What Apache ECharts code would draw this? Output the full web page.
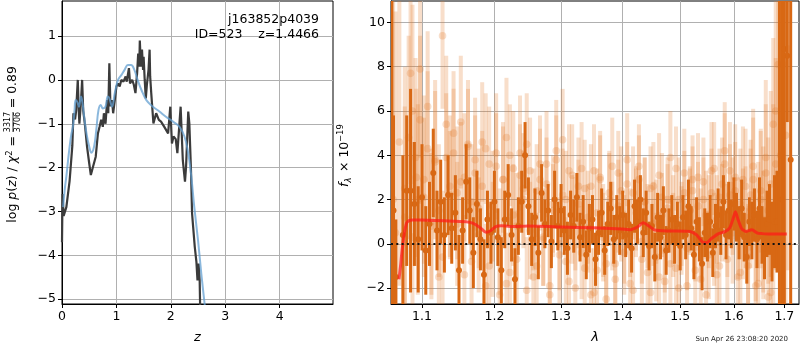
<!DOCTYPE html>
<html>
<head>
<meta charset="utf-8">
<script src="https://cdn.jsdelivr.net/npm/echarts@6/dist/echarts.min.js"></script>
<style>
  html, body { margin: 0; padding: 0; background: #fff; }
  #chart-container { width: 800px; height: 350px; }
</style>
</head>
<body>
<div id="chart-container"></div>
<script>
var dom = document.getElementById("chart-container");
var myChart = echarts.init(dom, null, { renderer: "canvas" });

// left panel: redshift PDF
const pdfZ = [0.00,0.01,0.03,0.08,0.14,0.19,0.21,0.24,0.26,0.29,0.31,0.32,0.35,0.37,0.39,0.42,0.46,0.50,0.53,0.57,
  0.62,0.66,0.69,0.72,0.75,0.77,0.80,0.83,0.85,0.87,0.89,0.92,0.94,0.97,1.00,1.03,1.06,1.09,1.13,1.17,
  1.19,1.23,1.25,1.29,1.32,1.35,1.38,1.40,1.42,1.43,1.45,1.47,1.49,1.50,1.52,1.54,1.56,1.59,1.61,1.62,
  1.64,1.68,1.73,1.78,1.82,1.88,1.95,1.99,2.02,2.05,2.09,2.12,2.15,2.18,2.22,2.26,2.28,2.32,2.34,2.37,
  2.39,2.41,2.44,2.47,2.49,2.51,2.53,2.55];
const pdfLogP = [-3.70,-2.60,-3.10,-2.90,-2.30,-1.50,-0.76,-0.90,-0.70,0.00,-0.76,-1.00,-0.46,0.00,-0.70,-1.00,-1.52,-1.90,-2.17,-1.98,
  -1.75,-1.22,-1.07,-0.91,-1.07,-0.76,-1.00,-0.46,-0.76,0.38,-0.60,-0.46,-0.76,-0.46,-0.15,-0.08,-0.15,0.00,-0.04,0.08,
  -0.04,0.27,-0.08,0.00,-0.11,-0.30,0.15,0.60,0.30,0.90,0.30,0.69,0.23,0.53,0.00,-0.42,-0.11,0.23,0.69,0.08,
  -0.30,-0.99,-0.76,-0.91,-0.95,-1.07,-1.22,-0.61,-1.45,-1.29,-1.35,-1.67,-1.14,-0.61,-1.83,-2.32,-1.98,-0.72,-0.99,-2.05,
  -3.04,-3.35,-3.81,-4.15,-4.57,-4.19,-4.57,-6.00];
const fitZ = [0.02,0.05,0.08,0.11,0.14,0.17,0.20,0.23,0.25,0.28,0.31,0.33,0.35,0.38,0.40,0.45,0.50,0.54,0.59,0.63,
  0.67,0.71,0.75,0.80,0.84,0.87,0.92,0.97,1.03,1.09,1.15,1.21,1.27,1.33,1.39,1.46,1.55,1.67,1.79,1.91,
  2.04,2.16,2.25,2.31,2.37,2.43,2.50,2.56,2.62,2.68];
const fitLogP = [-2.90,-2.50,-2.20,-1.85,-1.52,-1.25,-1.07,-0.70,-0.46,-0.50,-0.61,-0.50,-0.38,-0.55,-0.76,-1.22,-1.52,-1.66,-1.52,-1.14,
  -0.69,-0.57,-0.65,-0.61,-0.38,-0.42,-0.61,-0.30,0.00,0.11,0.23,0.34,0.34,0.23,0.00,-0.23,-0.46,-0.61,-0.72,-0.84,
  -0.95,-1.07,-1.29,-1.60,-2.13,-2.89,-3.66,-4.42,-5.10,-5.79];
const zTicks = [0, 1, 2, 3, 4];
const logpTicks = [-5, -4, -3, -2, -1, 0, 1];

// right panel: spectrum (dark = good pixels, light = down-weighted pixels)
const darkWave = [1.061,1.063,1.066,1.075,1.080,1.085,1.090,1.095,
  1.100,1.105,1.110,1.115,1.120,1.125,1.130,1.135,1.140,1.145,
  1.150,1.155,1.160,1.165,1.170,1.175,1.180,1.185,1.190,1.195,
  1.200,1.205,1.210,1.215,1.220,1.225,1.230,1.235,1.240,1.245,
  1.250,1.255,1.260,1.265,1.270,1.275,1.280,1.285,1.290,1.295,
  1.300,1.305,1.310,1.315,1.320,1.325,1.330,1.335,1.340,1.345,
  1.350,1.355,1.360,1.365,1.370,1.375,1.380,1.385,1.390,1.395,
  1.400,1.405,1.410,1.415,1.420,1.425,1.430,1.435,1.440,1.445,
  1.450,1.455,1.460,1.465,1.470,1.475,1.480,1.485,1.490,1.495,
  1.500,1.505,1.510,1.515,1.520,1.525,1.530,1.535,1.540,1.545,
  1.550,1.555,1.560,1.565,1.570,1.575,1.580,1.585,1.590,1.595,
  1.600,1.605,1.610,1.615,1.620,1.625,1.630,1.635,1.640,1.645,
  1.650,1.655,1.660,1.665,1.670,1.675,1.680,1.685,1.690,1.695,
  1.700,1.706,1.713];
const darkFlux = [4.0,1.5,-1.5,0.4,2.4,2.4,1.8,0.2,
  2.1,-0.3,0.9,3.2,0.6,1.9,0.4,2.2,0.7,1.4,
  -1.2,0.6,2.8,1.5,-0.4,1.8,0.2,-1.4,1.1,0.5,
  1.9,0.3,-1.2,1.1,2.2,0.4,-1.6,0.8,1.9,4.0,
  1.7,0.2,1.2,-0.4,2.3,0.9,1.5,0.1,2.0,0.8,
  1.5,0.6,-0.2,1.3,0.8,2.1,0.3,1.0,-0.5,0.7,
  1.1,-0.7,0.5,1.4,-0.3,0.9,1.6,0.2,1.2,0.6,
  1.3,0.4,0.9,-0.2,1.7,1.0,2.0,0.5,1.4,-0.1,
  0.8,-0.6,1.2,0.3,1.5,-0.3,0.6,1.1,0.2,0.9,
  -0.1,1.2,0.4,1.7,0.7,-0.5,1.0,0.2,-0.9,0.5,
  0.3,1.0,-0.4,0.8,1.3,0.6,1.9,0.4,1.5,0.9,
  1.8,1.2,0.5,1.6,0.3,-0.6,1.0,0.6,1.3,0.2,
  1.6,0.4,-0.2,0.9,1.1,0.1,1.0,1.0,0.3,2.0,
  8.8,8.5,3.8];
const darkErr = [20,4.3,2.6,3.6,3.4,4.6,2.8,2.4,
  2.4,2.0,1.9,2.0,1.8,1.9,1.7,1.8,1.6,1.7,
  1.6,1.5,1.7,1.5,1.6,1.5,1.4,1.6,1.3,1.4,
  1.4,1.3,1.5,1.3,1.4,1.2,1.4,1.3,1.4,1.5,
  1.3,1.2,1.3,1.2,1.3,1.1,1.2,1.2,1.3,1.1,
  1.2,1.1,1.2,1.1,1.2,1.1,1.1,1.2,1.1,1.1,
  1.1,1.2,1.0,1.1,1.1,1.0,1.2,1.1,1.0,1.1,
  1.1,1.0,1.1,1.1,1.2,1.0,1.1,1.1,1.0,1.1,
  1.0,1.1,1.1,1.0,1.1,1.1,1.0,1.1,1.1,1.0,
  1.1,1.0,1.1,1.2,1.0,1.1,1.1,1.0,1.2,1.1,
  1.1,1.2,1.1,1.0,1.2,1.1,1.2,1.1,1.3,1.1,
  1.2,1.1,1.2,1.3,1.1,1.2,1.1,1.3,1.2,1.3,
  1.4,1.3,1.4,1.5,1.6,1.8,2.1,2.3,14,14,
  14,3,14];
const lightWave = [1.0625,1.0655,1.0705,1.0775,1.0850,1.0875,1.0915,1.0945,1.0975,
  1.1025,1.1075,1.1125,1.1175,1.1225,1.1275,1.1325,1.1375,1.1425,1.1475,
  1.1525,1.1575,1.1625,1.1675,1.1725,1.1775,1.1825,1.1875,1.1925,1.1975,
  1.2025,1.2075,1.2125,1.2175,1.2225,1.2275,1.2325,1.2375,1.2425,1.2475,
  1.2525,1.2575,1.2625,1.2675,1.2725,1.2775,1.2825,1.2875,1.2925,1.2975,
  1.3025,1.3075,1.3125,1.3175,1.3225,1.3275,1.3325,1.3375,1.3425,1.3475,
  1.3525,1.3575,1.3625,1.3675,1.3725,1.3775,1.3825,1.3875,1.3925,1.3975,
  1.4025,1.4075,1.4125,1.4175,1.4225,1.4275,1.4325,1.4375,1.4425,1.4475,
  1.4525,1.4575,1.4625,1.4675,1.4725,1.4775,1.4825,1.4875,1.4925,1.4975,
  1.5025,1.5075,1.5125,1.5175,1.5225,1.5275,1.5325,1.5375,1.5425,1.5475,
  1.5525,1.5575,1.5625,1.5675,1.5725,1.5775,1.5825,1.5875,1.5925,1.5975,
  1.6025,1.6075,1.6125,1.6175,1.6225,1.6275,1.6325,1.6375,1.6425,1.6475,
  1.6525,1.6575,1.6625,1.6675,1.6725,1.6775,1.6825,1.6875,1.6925,1.6975,
  1.7025,1.7075];
const lightFlux = [2.0,0.5,4.6,2.5,7.7,6.0,3.9,2.0,7.9,
  2.9,4.3,1.0,3.8,-1.5,9.4,5.4,2.6,4.1,2.3,
  5.5,3.0,4.5,-0.8,3.8,1.6,4.6,-1.9,3.6,0.2,
  4.1,-2.3,2.9,4.8,-1.3,3.4,0.8,4.1,2.5,-2.1,
  3.3,1.1,-1.0,2.9,0.3,3.6,-2.3,1.8,4.2,-0.5,
  4.7,2.0,-1.7,3.1,0.9,2.6,-0.4,2.5,1.2,-2.3,
  3.3,-1.2,2.9,0.6,-2.5,2.0,3.5,-0.9,1.7,2.4,
  0.2,3.8,-1.8,2.3,1.4,2.9,-0.7,1.9,0.8,-2.2,
  2.6,1.0,-1.5,2.1,-0.3,1.6,3.9,0.4,-1.1,2.0,
  0.9,3.2,-1.9,1.5,2.4,0.2,3.0,-1.6,2.0,1.3,
  -0.5,2.3,3.4,1.1,-1.0,2.7,4.2,0.6,3.3,1.7,
  2.4,0.7,-1.3,2.9,1.2,-0.6,2.2,3.5,-1.9,1.0,
  2.4,0.4,3.2,1.5,-2.2,5.4,3.6,8.1,4.0,8.1,
  4.9,8.8];
const lightErr = [20,10,6.5,5.5,5.0,4.8,4.5,4.3,4.0,
  3.8,3.5,3.3,3.6,3.2,3.3,3.1,3.2,2.9,3.0,
  3.0,2.9,2.9,2.8,2.8,2.7,2.7,2.8,2.6,2.6,
  2.7,2.5,2.6,2.7,2.5,2.6,2.4,2.6,2.5,2.4,
  2.4,2.3,2.4,2.3,2.2,2.4,2.3,2.2,2.3,2.2,
  2.3,2.2,2.1,2.3,2.1,2.2,2.1,2.2,2.1,2.1,
  2.1,2.0,2.2,2.1,2.0,2.1,2.2,2.0,2.1,2.0,
  2.0,2.1,2.0,2.1,2.0,2.0,2.1,2.0,1.9,2.0,
  2.0,1.9,2.0,2.0,1.9,2.0,2.1,1.9,2.0,1.9,
  1.9,2.0,2.0,1.9,2.0,1.9,2.0,2.0,1.9,2.0,
  2.0,2.0,2.1,2.0,2.1,2.1,2.2,2.1,2.2,2.2,
  2.2,2.3,2.3,2.4,2.3,2.4,2.5,2.6,2.5,2.7,
  2.8,2.9,3.1,3.3,3.5,3.9,4.8,5.8,6.8,8,
  9,10];
const light2Wave = [1.0775,1.0825,1.0875,1.0925,1.0975,1.1025,1.1075,1.1125,1.1175,1.1225,
  1.1275,1.1325,1.1375,1.1425,1.1475,1.1525,1.1575,1.1625,1.1675,1.1725,
  1.1775,1.1825,1.1875,1.1925,1.1975,1.2025,1.2075,1.2125,1.2175,1.2225,
  1.2275,1.2325,1.2375,1.2425,1.2475,1.2525,1.2575,1.2625,1.2675,1.2725,
  1.2775,1.2825,1.2875,1.2925,1.2975,1.3025,1.3075,1.3125,1.3175,1.3225,
  1.3275,1.3325,1.3375,1.3425,1.3475,1.3525,1.3575,1.3625,1.3675,1.3725,
  1.3775,1.3825,1.3875,1.3925,1.3975,1.4025,1.4075,1.4125,1.4175,1.4225,
  1.4275,1.4325,1.4375,1.4425,1.4475,1.4525,1.4575,1.4625,1.4675,1.4725,
  1.4775,1.4825,1.4875,1.4925,1.4975,1.5025,1.5075,1.5125,1.5175,1.5225,
  1.5275,1.5325,1.5375,1.5425,1.5475,1.5525,1.5575,1.5625,1.5675,1.5725,
  1.5775,1.5825,1.5875,1.5925,1.5975,1.6025,1.6075,1.6125,1.6175,1.6225,
  1.6275,1.6325,1.6375,1.6425,1.6475,1.6525,1.6575,1.6625,1.6675,1.6725,
  1.6775,1.6825];
const light2Flux = [1.2,4.8,0.3,3.0,5.6,2.1,6.2,0.8,3.7,1.5,
  -0.6,3.9,2.2,5.0,0.9,2.8,-1.4,4.4,1.9,3.2,
  0.4,2.6,4.3,-1.0,1.7,3.5,0.1,2.9,-1.8,4.0,
  1.3,-0.7,3.1,2.0,4.5,0.6,-1.5,2.4,3.6,0.2,
  2.7,-1.9,1.5,3.8,0.0,2.2,-0.8,3.3,1.1,-2.0,
  1.8,3.4,-1.1,0.7,2.6,-2.2,1.4,3.0,0.3,-0.9,
  2.3,0.8,-1.6,3.2,1.2,-0.4,2.7,0.5,-2.1,1.6,
  3.5,0.1,1.9,-1.3,2.5,0.9,-0.6,3.1,1.3,-1.7,
  2.0,-0.9,1.1,3.4,-2.0,0.6,2.3,-0.2,1.5,2.9,
  -1.2,1.7,0.4,2.8,-2.3,1.0,3.3,0.2,-1.4,2.1,
  1.4,3.6,-0.7,2.2,0.5,3.0,-1.5,1.8,0.9,2.6,
  -1.0,1.6,2.9,0.3,-1.8,2.0,1.1,3.9,-2.4,2.7,
  1.5,6.0];
const light2Err = [5.0,4.6,4.3,4.0,3.8,3.6,3.4,3.3,3.2,3.0,
  3.0,2.9,2.9,2.8,2.8,2.7,2.7,2.6,2.6,2.6,
  2.6,2.5,2.5,2.4,2.5,2.4,2.4,2.4,2.3,2.3,
  2.3,2.2,2.3,2.2,2.3,2.2,2.2,2.1,2.2,2.1,
  2.1,2.2,2.1,2.0,2.1,2.1,2.0,2.1,2.0,2.0,
  2.0,2.1,2.0,2.0,1.9,2.0,2.0,1.9,2.0,1.9,
  1.9,2.0,1.9,1.9,2.0,1.9,1.9,2.0,1.9,1.9,
  1.9,1.9,2.0,1.9,1.9,1.9,2.0,1.9,1.9,1.9,
  1.9,1.9,2.0,1.9,1.9,2.0,1.9,1.9,2.0,2.0,
  2.0,2.0,2.1,2.0,2.1,2.1,2.2,2.1,2.2,2.2,
  2.2,2.3,2.2,2.3,2.3,2.4,2.4,2.5,2.5,2.6,
  2.6,2.7,2.8,2.9,3.0,3.1,3.3,3.5,3.8,4.2,
  4.8,5.5];
const modelWave = [1.0700,1.0720,1.0740,1.0770,1.0800,1.0830,1.0870,1.1000,1.1300,1.1600,1.1700,1.1800,1.1880,1.1950,1.2020,
  1.2100,1.2300,1.2500,1.3000,1.3500,1.3900,1.4130,1.4250,1.4350,1.4450,1.4550,1.4800,1.5180,1.5300,1.5400,
  1.5480,1.5580,1.5700,1.5830,1.5920,1.5980,1.6030,1.6080,1.6150,1.6230,1.6350,1.6460,1.6550,1.6700,1.7050];
const modelFlux = [-1.60,-1.00,-0.30,0.50,0.95,1.05,1.08,1.07,1.04,1.00,0.92,0.72,0.52,0.60,0.78,
  0.81,0.78,0.80,0.76,0.72,0.68,0.64,0.76,0.95,0.80,0.62,0.58,0.56,0.40,0.10,
  0.05,0.25,0.45,0.55,0.72,1.10,1.45,1.10,0.68,0.56,0.63,0.48,0.46,0.44,0.44];
const lamTicks = [1.1, 1.2, 1.3, 1.4, 1.5, 1.6, 1.7];
const fluxTicks = [-2, 0, 2, 4, 6, 8, 10];

const FONT = "DejaVu Sans";
const DARK = "rgb(216,104,20)";
const LIGHT = "rgba(228,122,45,0.25)";
function fmtNum(v) {
  return v < 0 ? "\u2212" + Math.abs(v) : String(v);
}
function ln(v) { return Math.log(v); }

function errBars(color, barW, r) {
  return function (params, api) {
    var x = api.value(0), y = api.value(1), e = api.value(2);
    var top = api.coord([x, y + e]);
    var bot = api.coord([x, y - e]);
    var c = api.coord([x, y]);
    return {
      type: "group",
      children: [
        { type: "rect", shape: { x: c[0] - barW / 2, y: top[1], width: barW, height: bot[1] - top[1] }, style: { fill: color } },
        { type: "circle", shape: { cx: c[0], cy: c[1], r: r }, style: { fill: color } },
      ],
    };
  };
}

function spectrum(wave, flux, err) {
  return wave.map(function (w, i) { return [ln(w), flux[i], err[i]]; });
}

function errSeries(data, color, barW, r, z) {
  return {
    type: "custom", xAxisIndex: 1, yAxisIndex: 1, z: z, clip: true,
    encode: { x: 0, y: 1 },
    data: data,
    renderItem: errBars(color, barW, r),
  };
}

function axisCommon(ticks, formatter) {
  return {
    axisLine: { show: true, onZero: false, lineStyle: { color: "#000", width: 1 } },
    axisTick: { show: true, inside: false, length: 4, customValues: ticks, lineStyle: { color: "#000" } },
    axisLabel: { customValues: ticks, color: "#000", fontFamily: FONT, fontSize: 12.5, margin: 6, formatter: formatter },
    splitLine: { show: true, lineStyle: { color: "#b0b0b0", width: 1 } },
  };
}

var lnTicks = lamTicks.map(ln);

var option = {
  animation: false,
  backgroundColor: "#fff",
  grid: [
    { left: 62, right: 467, top: 1, bottom: 46, show: true, borderColor: "#000", borderWidth: 1, backgroundColor: "#fff" },
    { left: 391, right: 1, top: 1, bottom: 46, show: true, borderColor: "#000", borderWidth: 1, backgroundColor: "#fff" },
  ],
  xAxis: [
    Object.assign({
      type: "value", gridIndex: 0, min: 0, max: 4.98,
      name: "z", nameLocation: "middle", nameGap: 27,
      nameTextStyle: { fontFamily: FONT, fontSize: 13, fontStyle: "italic", color: "#000" },
    }, axisCommon(zTicks, fmtNum)),
    Object.assign({
      type: "value", gridIndex: 1, min: ln(1.0598), max: ln(1.7302),
      name: "\u03bb", nameLocation: "middle", nameGap: 27,
      nameTextStyle: { fontFamily: FONT, fontSize: 13, fontStyle: "italic", color: "#000" },
    }, axisCommon(lnTicks, function (v) { return Math.exp(v).toFixed(1); })),
  ],
  yAxis: [
    Object.assign({ type: "value", gridIndex: 0, min: -5.11, max: 1.8 }, axisCommon(logpTicks, fmtNum)),
    Object.assign({ type: "value", gridIndex: 1, min: -2.72, max: 10.97 }, axisCommon(fluxTicks, fmtNum)),
  ],
  series: [
    {
      type: "line", xAxisIndex: 0, yAxisIndex: 0, z: 3,
      data: pdfZ.map(function (z, i) { return [z, pdfLogP[i]]; }),
      showSymbol: false, symbol: "none",
      lineStyle: { color: "#3b3b3b", width: 2.2 },
    },
    {
      type: "line", xAxisIndex: 0, yAxisIndex: 0, z: 4,
      data: fitZ.map(function (z, i) { return [z, fitLogP[i]]; }),
      showSymbol: false, symbol: "none", smooth: 0.4,
      lineStyle: { color: "rgba(100,160,210,0.75)", width: 2 },
    },
    errSeries(spectrum(lightWave, lightFlux, lightErr), LIGHT, 4, 3.8, 2),
    errSeries(spectrum(light2Wave, light2Flux, light2Err), LIGHT, 4, 3.8, 2),
    errSeries(spectrum(darkWave, darkFlux, darkErr), DARK, 3, 3, 3),
    {
      type: "line", xAxisIndex: 1, yAxisIndex: 1, z: 5,
      data: modelWave.map(function (w, i) { return [ln(w), modelFlux[i]]; }),
      showSymbol: false, symbol: "none", smooth: 0.2,
      lineStyle: { color: "rgba(255,25,25,0.72)", width: 3 },
      markLine: {
        silent: true, symbol: "none", z: 6,
        label: { show: false },
        lineStyle: { color: "#111", width: 2, type: [2, 3.3] },
        data: [{ yAxis: 0 }],
      },
    },
  ],
  graphic: [
    { type: "text", z: 100, x: 319, y: 20, style: { text: "j163852p4039", fontFamily: FONT, fontSize: 12.5, fill: "#000", align: "right", verticalAlign: "middle" } },
    { type: "text", z: 100, x: 319, y: 35, style: { text: "ID=523    z=1.4466", fontFamily: FONT, fontSize: 12.5, fill: "#000", align: "right", verticalAlign: "middle" } },
    { type: "text", z: 100, x: 788, y: 339, style: { text: "Sun Apr 26 23:08:20 2020", fontFamily: FONT, fontSize: 7, fill: "#222", align: "right", verticalAlign: "middle" } },
    {
      // left y label, reads bottom-to-top; origin at the top end
      type: "group", x: 13, y: 66, rotation: Math.PI / 2,
      children: [
        { type: "text", x: 0, y: 0, style: { text: "= 0.89", fontFamily: FONT, fontSize: 12.5, fill: "#000", align: "right", verticalAlign: "middle" } },
        { type: "text", x: -56, y: -5, style: { text: "3317", fontFamily: FONT, fontSize: 8, fill: "#000", align: "center", verticalAlign: "middle" } },
        { type: "line", shape: { x1: -66, y1: 0, x2: -46, y2: 0 }, style: { stroke: "#000", lineWidth: 0.8 } },
        { type: "text", x: -56, y: 5, style: { text: "3706", fontFamily: FONT, fontSize: 8, fill: "#000", align: "center", verticalAlign: "middle" } },
        {
          type: "text", x: -70, y: 0,
          style: {
            text: "{n|log }{i|p}{n|(}{i|z}{n|) / }{i|\u03c7}{s|2}{n| =}",
            fontFamily: FONT, fontSize: 12.5, fill: "#000", align: "right", verticalAlign: "middle",
            rich: {
              n: { fontFamily: FONT, fontSize: 12.5, fill: "#000", lineHeight: 16 },
              i: { fontFamily: FONT, fontSize: 12.5, fontStyle: "italic", fill: "#000", lineHeight: 16 },
              s: { fontFamily: FONT, fontSize: 8.5, fill: "#000", verticalAlign: "top", lineHeight: 10 },
            },
          },
        },
      ],
    },
    {
      // right y label
      type: "group", x: 345, y: 187, rotation: Math.PI / 2,
      children: [
        { type: "text", x: 0, y: 0, style: { text: "f", fontFamily: FONT, fontSize: 12.5, fontStyle: "italic", fill: "#000", align: "left", verticalAlign: "middle" } },
        { type: "text", x: 4.5, y: 3.5, style: { text: "\u03bb", fontFamily: FONT, fontSize: 8.5, fontStyle: "italic", fill: "#000", align: "left", verticalAlign: "middle" } },
        { type: "text", x: 11, y: 0, style: { text: " \u00d7 10", fontFamily: FONT, fontSize: 12.5, fill: "#000", align: "left", verticalAlign: "middle" } },
        { type: "text", x: 45, y: -4.5, style: { text: "\u221219", fontFamily: FONT, fontSize: 8.5, fill: "#000", align: "left", verticalAlign: "middle" } },
      ],
    },
  ],
};

if (option && typeof option === "object") {
  myChart.setOption(option);
}

window.addEventListener("resize", myChart.resize);
</script>
</body>
</html>
